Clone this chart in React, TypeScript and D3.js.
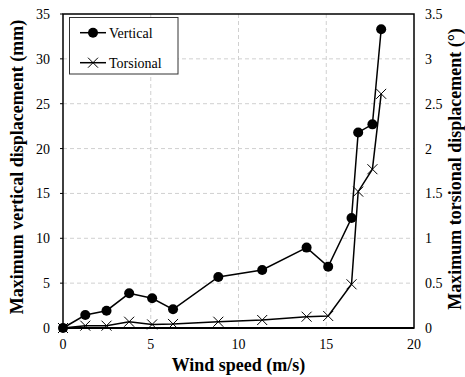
import React, { useEffect, useRef } from "react";
import * as d3 from "d3";

const windSpeed = [0, 1.27, 2.48, 3.77, 5.08, 6.27, 8.85, 11.35, 13.88, 15.11, 16.44, 16.82, 17.63, 18.13];
const vertical = [0, 1.45, 1.93, 3.87, 3.31, 2.08, 5.69, 6.47, 8.96, 6.84, 12.26, 21.8, 22.7, 33.3];
const torsional = [0, 0.026, 0.026, 0.07, 0.04, 0.045, 0.07, 0.089, 0.126, 0.134, 0.487, 1.52, 1.77, 2.61];
const xTicks = [0, 5, 10, 15, 20];
const yLeftTicks = [0, 5, 10, 15, 20, 25, 30, 35];
const yRightTicks = [0, 0.5, 1, 1.5, 2, 2.5, 3, 3.5];

const W = 465, H = 377;
const margin = { top: 14, right: 51, bottom: 49, left: 63 };
const font = "Liberation Serif";

export default function App() {
  const ref = useRef<SVGSVGElement>(null);

  useEffect(() => {
    const svg = d3.select(ref.current);
    svg.selectAll("*").remove();
    svg.style("font-family", font);
    const iw = W - margin.left - margin.right;
    const ih = H - margin.top - margin.bottom;
    const g = svg.append("g").attr("transform", `translate(${margin.left},${margin.top})`);

    const x = d3.scaleLinear().domain([0, 20]).range([0, iw]);
    const yL = d3.scaleLinear().domain([0, 35]).range([ih, 0]);
    const yR = d3.scaleLinear().domain([0, 3.5]).range([ih, 0]);

    // grid
    g.selectAll(".gx").data(xTicks.slice(1, -1)).enter().append("line")
      .attr("x1", d => x(d)).attr("x2", d => x(d)).attr("y1", 0).attr("y2", ih)
      .attr("stroke", "#d0d0d0").attr("stroke-dasharray", "4,3").attr("stroke-width", 1);
    g.selectAll(".gy").data(yLeftTicks.slice(1, -1)).enter().append("line")
      .attr("y1", d => yL(d)).attr("y2", d => yL(d)).attr("x1", 0).attr("x2", iw)
      .attr("stroke", "#d0d0d0").attr("stroke-dasharray", "4,3").attr("stroke-width", 1);

    // frame
    g.append("rect").attr("width", iw).attr("height", ih)
      .attr("fill", "none").attr("stroke", "#000").attr("stroke-width", 1.5);
    g.append("line").attr("x1", 0).attr("x2", iw).attr("y1", ih).attr("y2", ih)
      .attr("stroke", "#000").attr("stroke-width", 2);

    // tick labels
    g.selectAll(".tx").data(xTicks).enter().append("text")
      .attr("x", d => x(d)).attr("y", ih + 21).attr("text-anchor", "middle")
      .attr("font-size", 14).text(d => d);
    g.selectAll(".tyl").data(yLeftTicks).enter().append("text")
      .attr("x", -13).attr("y", d => yL(d) + 5).attr("text-anchor", "end")
      .attr("font-size", 14).text(d => d);
    g.selectAll(".tickl").data(yLeftTicks).enter().append("line")
      .attr("x1", -3).attr("x2", 0).attr("y1", d => yL(d)).attr("y2", d => yL(d))
      .attr("stroke", "#000").attr("stroke-width", 1);
    g.selectAll(".tyr").data(yRightTicks).enter().append("text")
      .attr("x", iw + 11).attr("y", d => yR(d) + 5).attr("text-anchor", "start")
      .attr("font-size", 14).text(d => d);

    // axis titles
    g.append("text").attr("x", iw / 2).attr("y", ih + 43).attr("text-anchor", "middle")
      .attr("font-size", 18).attr("font-weight", "bold")
      .text("Wind speed (m/s)");
    g.append("text").attr("transform", `translate(${-40},${153}) rotate(-90)`)
      .attr("text-anchor", "middle").attr("font-size", 18)
      .attr("font-weight", "bold").text("Maximum vertical displacement (mm)");
    g.append("text").attr("transform", `translate(${iw + 47},${155}) rotate(-90)`)
      .attr("text-anchor", "middle").attr("font-size", 18)
      .attr("font-weight", "bold").text("Maximum torsional displacement (°)");

    const vData = windSpeed.map((w, i) => [w, vertical[i]] as [number, number]);
    const tData = windSpeed.map((w, i) => [w, torsional[i]] as [number, number]);

    g.append("path").datum(tData)
      .attr("fill", "none").attr("stroke", "#000").attr("stroke-width", 1.5)
      .attr("d", d3.line<[number, number]>().x(d => x(d[0])).y(d => yR(d[1])));
    const cross = (sel: any, s: number) => sel.append("path")
      .attr("d", `M${-s},${-s}L${s},${s}M${-s},${s}L${s},${-s}`)
      .attr("stroke", "#000").attr("stroke-width", 1).attr("fill", "none");
    tData.forEach(d => {
      cross(g.append("g").attr("transform", `translate(${x(d[0])},${yR(d[1])})`), 5);
    });

    g.append("path").datum(vData)
      .attr("fill", "none").attr("stroke", "#000").attr("stroke-width", 1.5)
      .attr("d", d3.line<[number, number]>().x(d => x(d[0])).y(d => yL(d[1])));
    g.selectAll(".dot").data(vData).enter().append("circle")
      .attr("cx", d => x(d[0])).attr("cy", d => yL(d[1])).attr("r", 5).attr("fill", "#000");

    // legend
    const lg = svg.append("g");
    lg.append("rect").attr("x", 69.5).attr("y", 17.5).attr("width", 108.5).attr("height", 56.5)
      .attr("fill", "#fff").attr("stroke", "#333").attr("stroke-width", 1);
    lg.append("line").attr("x1", 80).attr("x2", 106).attr("y1", 32.7).attr("y2", 32.7)
      .attr("stroke", "#000").attr("stroke-width", 1.5);
    lg.append("circle").attr("cx", 93).attr("cy", 32.7).attr("r", 5).attr("fill", "#000");
    lg.append("line").attr("x1", 80).attr("x2", 106).attr("y1", 62.7).attr("y2", 62.7)
      .attr("stroke", "#000").attr("stroke-width", 1.5);
    cross(lg.append("g").attr("transform", "translate(93,62.7)"), 5);
    lg.append("text").attr("x", 109).attr("y", 37.5).attr("font-size", 14).text("Vertical");
    lg.append("text").attr("x", 109).attr("y", 67.5).attr("font-size", 14).text("Torsional");
  }, []);

  return (
    <svg ref={ref} width={W} height={H}
      style={{ position: "absolute", left: 0, top: 0, background: "#fff", display: "block" }} />
  );
}
